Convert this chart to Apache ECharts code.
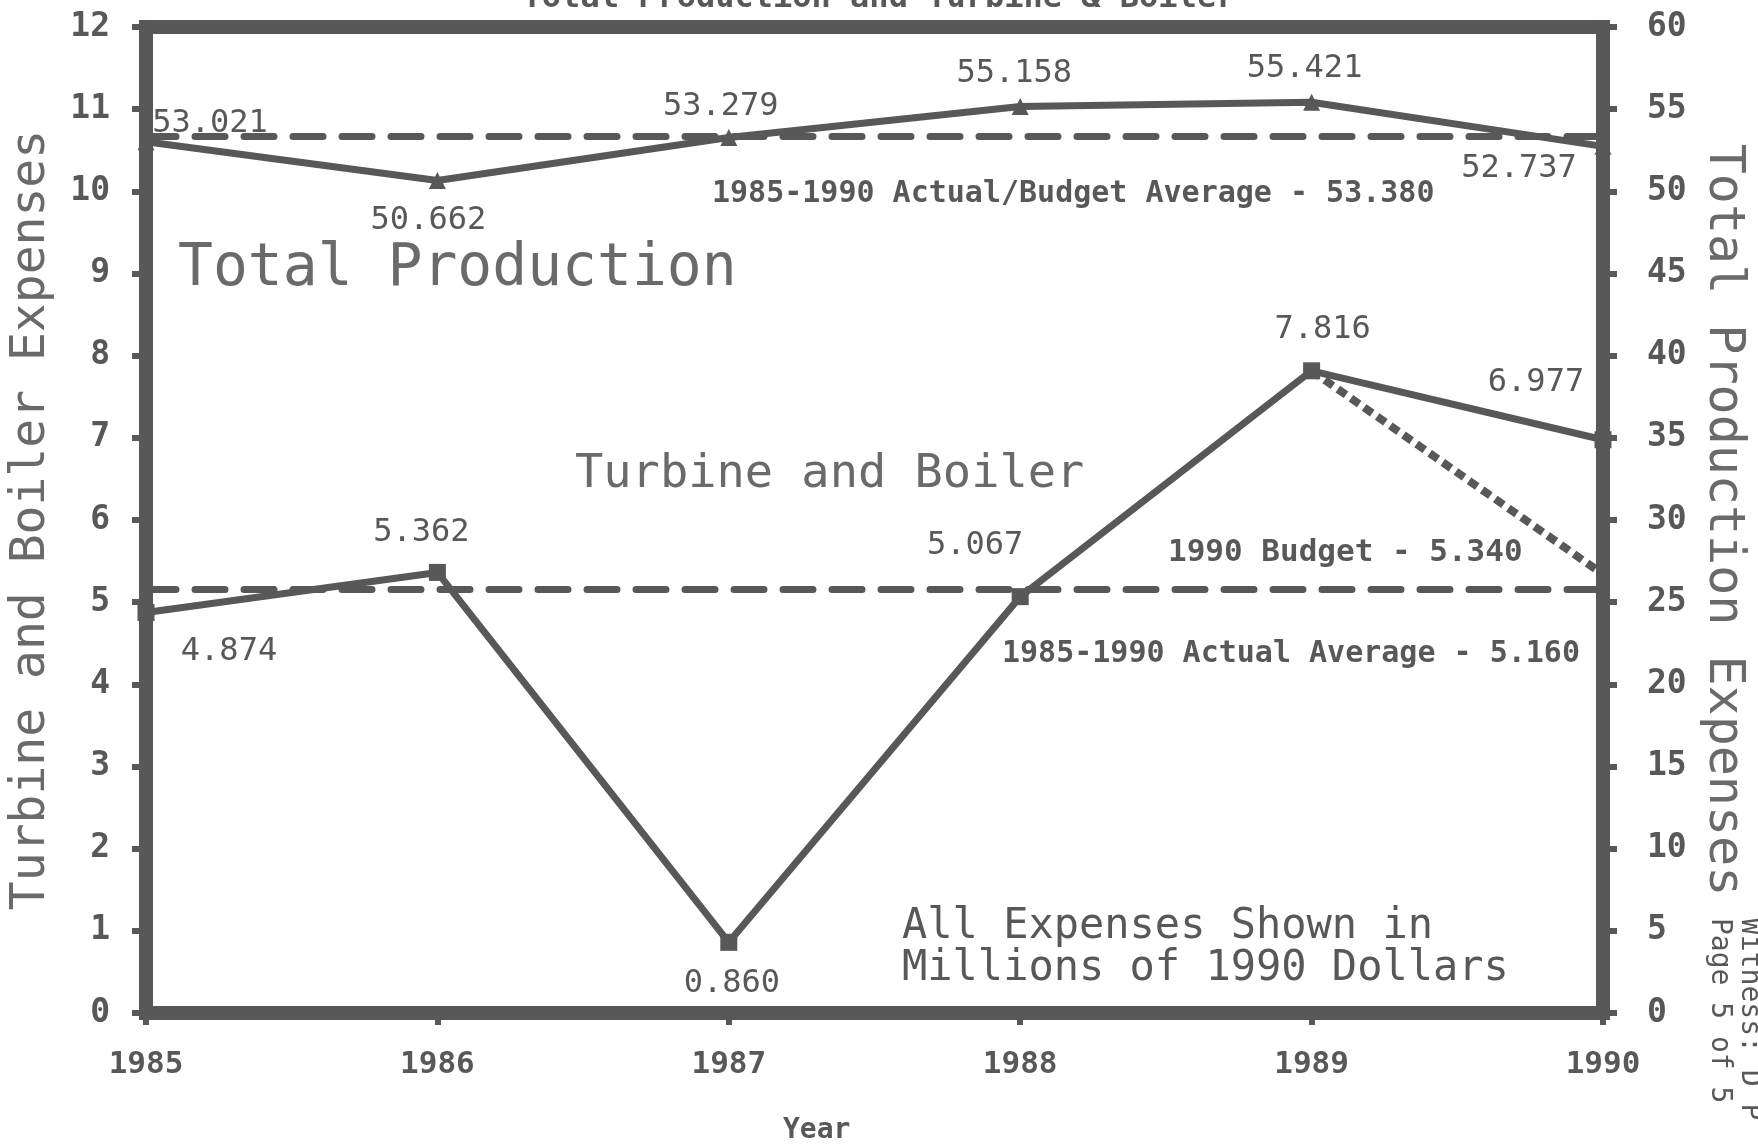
<!DOCTYPE html>
<html>
<head>
<meta charset="utf-8">
<script src="https://cdn.jsdelivr.net/npm/echarts@6/dist/echarts.min.js"></script>
<style>
  html, body { margin: 0; padding: 0; background: #fff; }
  #chart { width: 1758px; height: 1145px; }
</style>
</head>
<body>
<div id="chart"></div>
<script>
const years = ['1985', '1986', '1987', '1988', '1989', '1990'];
const turbineBoiler = [4.874, 5.362, 0.860, 5.067, 7.816, 6.977];
const totalProduction = [53.021, 50.662, 53.279, 55.158, 55.421, 52.737];
const budgetPath = [null, null, null, null, 7.816, 5.340];
const turbineAvg = 5.160;
const totalAvg = 53.380;

// label offsets (px) from each point
const totalLabelOffset = [[64, -18], [-9, 40], [-8, -31], [-6, -33], [-7, -34], [-84, 22]];
const turbineLabelOffset = [[83, 39], [-16, -40], [3, 41], [-45, -51], [11, -41], [-67, -57]];

const ink = '#585858';
const mono = '"DejaVu Sans Mono", monospace';

const myChart = echarts.init(document.getElementById('chart'));

function withLabels(values, offsets) {
  return values.map((v, i) => ({
    value: v,
    label: { offset: offsets[i] }
  }));
}

const avgLine = (value) => ({
  silent: true,
  symbol: 'none',
  label: { show: false },
  lineStyle: { color: ink, width: 7, type: [30, 19], cap: 'round' },
  data: [{ yAxis: value }]
});

const option = {
  animation: false,
  grid: {
    left: 138, right: 155, top: 27, bottom: 132,
    show: true, borderColor: ink, borderWidth: 14
  },
  xAxis: {
    type: 'category',
    data: years,
    boundaryGap: false,
    axisLine: { lineStyle: { color: ink, width: 14 } },
    axisTick: { alignWithLabel: true, length: 12, lineStyle: { color: ink, width: 6 } },
    axisLabel: { color: ink, fontFamily: mono, fontWeight: 'bold', fontSize: 31, margin: 36 },
    splitLine: { show: false }
  },
  yAxis: [
    {
      type: 'value', min: 0, max: 12, interval: 1,
      name: 'Turbine and Boiler Expenses',
      nameLocation: 'middle', nameRotate: 90, nameGap: 90,
      nameTextStyle: { color: '#6a6a6a', fontFamily: mono, fontSize: 48 },
      axisLine: { show: true, lineStyle: { color: ink, width: 14 } },
      axisTick: { show: true, length: 14, lineStyle: { color: ink, width: 6 } },
      axisLabel: { color: ink, fontFamily: mono, fontWeight: 'bold', fontSize: 33, margin: 36 },
      splitLine: { show: false }
    },
    {
      type: 'value', min: 0, max: 60, interval: 5,
      name: 'Total Production Expenses',
      nameLocation: 'middle', nameRotate: -90, nameGap: 92,
      nameTextStyle: { color: '#6a6a6a', fontFamily: mono, fontSize: 50 },
      axisLine: { show: true, lineStyle: { color: ink, width: 14 } },
      axisTick: { show: true, length: 14, lineStyle: { color: ink, width: 6 } },
      axisLabel: { color: ink, fontFamily: mono, fontWeight: 'bold', fontSize: 33, margin: 44 },
      splitLine: { show: false }
    }
  ],
  series: [
    {
      name: 'Total Production',
      type: 'line',
      yAxisIndex: 1,
      data: withLabels(totalProduction, totalLabelOffset),
      symbol: 'triangle',
      symbolSize: 17,
      lineStyle: { color: ink, width: 7 },
      itemStyle: { color: ink },
      label: {
        show: true, position: 'inside', color: ink, fontFamily: mono, fontSize: 32,
        formatter: p => p.value.toFixed(3)
      },
      markLine: avgLine(totalAvg),
      z: 3
    },
    {
      name: 'Turbine and Boiler',
      type: 'line',
      yAxisIndex: 0,
      data: withLabels(turbineBoiler, turbineLabelOffset),
      symbol: 'rect',
      symbolSize: 17,
      lineStyle: { color: ink, width: 7 },
      itemStyle: { color: ink },
      label: {
        show: true, position: 'inside', color: ink, fontFamily: mono, fontSize: 32,
        formatter: p => p.value.toFixed(3)
      },
      markLine: avgLine(turbineAvg),
      z: 3
    },
    {
      name: '1990 Budget',
      type: 'line',
      yAxisIndex: 0,
      data: budgetPath,
      symbol: 'none',
      lineStyle: { color: ink, width: 8, type: [10, 6], cap: 'butt' },
      z: 2
    }
  ],
  graphic: [
    {
      type: 'text', left: 'center', top: -17,
      style: { text: 'Total Production and Turbine & Boiler', fill: ink, font: 'bold 32px ' + mono }
    },
    {
      type: 'text', x: 178, y: 241,
      style: { text: 'Total Production', fill: '#6a6a6a', font: '58px ' + mono }
    },
    {
      type: 'text', x: 575, y: 451,
      style: { text: 'Turbine and Boiler', fill: '#6a6a6a', font: '47px ' + mono }
    },
    {
      type: 'text', x: 712, y: 179,
      style: { text: '1985-1990 Actual/Budget Average - 53.380', fill: ink, font: 'bold 30px ' + mono }
    },
    {
      type: 'text', x: 1168, y: 537,
      style: { text: '1990 Budget - 5.340', fill: ink, font: 'bold 31px ' + mono }
    },
    {
      type: 'text', x: 1002, y: 639,
      style: { text: '1985-1990 Actual Average - 5.160', fill: ink, font: 'bold 30px ' + mono }
    },
    {
      type: 'text', x: 902, y: 906,
      style: { text: 'All Expenses Shown in\nMillions of 1990 Dollars', fill: ink, font: '42px ' + mono, lineHeight: 42 }
    },
    {
      type: 'text', x: 783, y: 1117,
      style: { text: 'Year', fill: ink, font: 'bold 28px ' + mono }
    },
    {
      type: 'text', x: 1764, y: 918, rotation: -Math.PI / 2,
      style: { text: 'Witness: D P\nPage 5 of 5', fill: ink, font: '28px ' + mono, lineHeight: 30, textAlign: 'left', textVerticalAlign: 'top' }
    }
  ]
};

myChart.setOption(option);
</script>
</body>
</html>
